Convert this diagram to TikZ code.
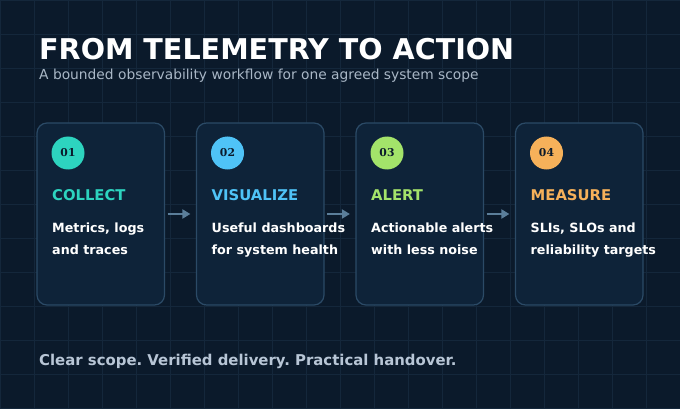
\documentclass[tikz,border=0pt]{standalone}
\usepackage{fontspec}
\setmainfont{DejaVu Sans}
\newfontfamily\numfont{DejaVu Serif}
\usepackage{tikz}
\usetikzlibrary{positioning, arrows.meta}
\frenchspacing

\definecolor{bgnavy}{HTML}{0B1A2B}
\definecolor{gridnavy}{HTML}{14273B}
\definecolor{cardnavy}{HTML}{0E2339}
\definecolor{cardedge}{HTML}{2B4A66}
\definecolor{tealc}{HTML}{2DD4BF}
\definecolor{skyc}{HTML}{4FC3F7}
\definecolor{limec}{HTML}{A3E36A}
\definecolor{amberc}{HTML}{F6B15A}
\definecolor{flowc}{HTML}{5B7E9A}
\definecolor{subc}{HTML}{A9B7C6}
\definecolor{footc}{HTML}{B8C6D6}

\begin{document}
\begin{tikzpicture}[
    x=1pt, y=-1pt,
    card/.style={rectangle, draw=cardedge, fill=cardnavy, line width=1.2pt,
                 rounded corners=10pt, minimum width=127.5pt, minimum height=182pt,
                 inner sep=0pt},
    badge/.style={circle, minimum size=33pt, inner sep=0pt,
                  font=\numfont\fontsize{10.8}{12}\selectfont\bfseries, text=bgnavy},
    heading/.style={anchor=base west, inner sep=0pt,
                    font=\fontsize{14.8}{18}\selectfont\bfseries},
    body/.style={anchor=north west, inner sep=0pt, align=left, text=white,
                 font=\fontsize{12.7}{22}\selectfont\bfseries},
    flow/.style={-{Triangle[length=8pt, width=9pt]}, draw=flowc, line width=2pt,
                 shorten <=2.5pt, shorten >=5.5pt},
    gridline/.style={draw=gridnavy, line width=0.8pt}
]

    % === Background ===
    \useasboundingbox (0,0) rectangle (680,409);
    \fill[bgnavy] (0,0) rectangle (680,409);
    \foreach \gx in {0,34,...,680}
        \draw[gridline] (\gx,0) -- (\gx,409);
    \foreach \gy in {0,34,...,408}
        \draw[gridline] (0,\gy) -- (680,\gy);

    % === Title ===
    \node[anchor=base west, inner sep=0pt, text=white,
          font=\fontsize{28.6}{34}\selectfont\bfseries] (title) at (39,59.5)
        {FROM TELEMETRY TO ACTION};
    \node[anchor=base west, inner sep=0pt, text=subc,
          font=\fontsize{13.8}{16}\selectfont] (subtitle) at (39,80)
        {A bounded observability workflow for one agreed system scope};

    % === Cards ===
    \node[card] (collect) at (100.75,214) {};
    \node[badge, fill=tealc] (num1) at (68,153) {01};
    \node[heading, text=tealc] (head1) at (52,200.5) {COLLECT};
    \node[body] (text1) at (52,222.3) {Metrics, logs\\and traces};

    \node[card] (visualize) at (260.25,214) {};
    \node[badge, fill=skyc] (num2) at (227.5,153) {02};
    \node[heading, text=skyc] (head2) at (211.5,200.5) {VISUALIZE};
    \node[body] (text2) at (211.5,222.3) {Useful dashboards\\for system health};

    \node[card] (alert) at (419.75,214) {};
    \node[badge, fill=limec] (num3) at (387,153) {03};
    \node[heading, text=limec] (head3) at (371,200.5) {ALERT};
    \node[body] (text3) at (371,222.3) {Actionable alerts\\with less noise};

    \node[card] (measure) at (579.25,214) {};
    \node[badge, fill=amberc] (num4) at (546.5,153) {04};
    \node[heading, text=amberc] (head4) at (530.5,200.5) {MEASURE};
    \node[body] (text4) at (530.5,222.3) {SLIs, SLOs and\\reliability targets};

    % === Flow arrows ===
    \draw[flow] (collect) -- (visualize);
    \draw[flow] (visualize) -- (alert);
    \draw[flow] (alert) -- (measure);

    % === Footer ===
    \node[anchor=base west, inner sep=0pt, text=footc,
          font=\fontsize{14.9}{18}\selectfont\bfseries] (footer) at (39,365.5)
        {Clear scope. Verified delivery. Practical handover.};

\end{tikzpicture}
\end{document}
